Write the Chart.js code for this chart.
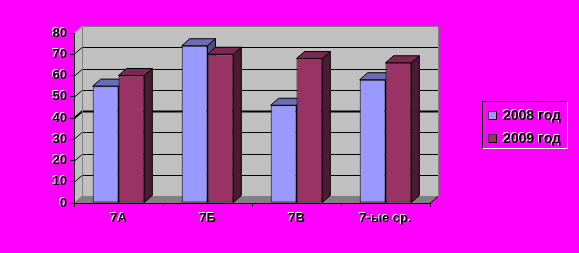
<!DOCTYPE html>
<html><head><meta charset="utf-8">
<script src="https://cdn.jsdelivr.net/npm/chart.js@4/dist/chart.umd.min.js"></script>
<style>
html,body{margin:0;padding:0;background:#FF00FF;}
#wrap{position:relative;width:579px;height:253px;background:#FF00FF;}
#legend{position:absolute;left:482px;top:101px;width:86px;height:48px;border:1px solid #000;border-right-color:#fff;border-bottom-color:#fff;box-sizing:border-box;font:bold 14px "Liberation Sans",Arial,sans-serif;color:#000;}
.li{position:absolute;left:5px;height:16px;line-height:16px;white-space:nowrap;text-shadow:-1px -1px 0 #fff;}
.sw{display:inline-block;width:9px;height:9px;border:1px solid #000;border-top-color:#444;border-left-color:#444;box-sizing:border-box;margin-right:6px;vertical-align:0px;}
</style></head>
<body><div id="wrap"><canvas id="c" width="579" height="253"></canvas><div id="legend"></div></div>
<script>
const categories = ["7А", "7Б", "7В", "7-ые ср."];
const series2008 = [55, 74, 46, 58];
const series2009 = [60, 70, 68, 66];
const seriesNames = ["2008 год", "2009 год"];
const yTicks = [0, 10, 20, 30, 40, 50, 60, 70, 80];

const DX = 8, DY = -7;
const colors = [
  {front:"#9999FF", top:"#6B6BB8", side:"#4D4D80"},
  {front:"#993366", top:"#7A2952", side:"#4D1A33"}
];

const threeD = {
  id: "threeD",
  beforeDraw(chart) {
    const ctx = chart.ctx, a = chart.chartArea, y = chart.scales.y;
    const L = a.left, R = a.right, T = a.top, B = a.bottom;
    ctx.save();
    ctx.fillStyle = "#C0C0C0";
    ctx.beginPath();
    ctx.moveTo(L, T); ctx.lineTo(L + DX, T + DY); ctx.lineTo(L + DX, B + DY); ctx.lineTo(L, B); ctx.closePath();
    ctx.fill();
    ctx.fillRect(L + DX, T + DY, R - L, B - T);
    ctx.fillStyle = "#808080";
    ctx.beginPath();
    ctx.moveTo(L, B); ctx.lineTo(L + DX, B + DY); ctx.lineTo(R + DX, B + DY); ctx.lineTo(R, B); ctx.closePath();
    ctx.fill();
    ctx.strokeStyle = "#000";
    yTicks.forEach(v => {
      if (v === 0 || v === 80) return;
      const py = Math.round(y.getPixelForValue(v)) + 0.5;
      ctx.lineWidth = v === 40 ? 2 : 1;
      ctx.beginPath();
      ctx.moveTo(L, py); ctx.lineTo(L + DX, py + DY); ctx.lineTo(R + DX, py + DY);
      ctx.stroke();
    });
    ctx.lineWidth = 1;
    ctx.strokeStyle = "#808080";
    ctx.beginPath();
    ctx.moveTo(L + 0.5, T + 0.5); ctx.lineTo(L + DX + 0.5, T + DY + 0.5); ctx.lineTo(R + DX + 0.5, T + DY + 0.5);
    ctx.lineTo(R + DX + 0.5, B + DY + 0.5);
    ctx.moveTo(L + DX + 0.5, T + DY + 0.5); ctx.lineTo(L + DX + 0.5, B + DY);
    ctx.stroke();
    ctx.strokeStyle = "#000";
    ctx.beginPath();
    ctx.moveTo(R, B + 0.5); ctx.lineTo(R + DX, B + DY + 0.5);
    ctx.stroke();
    ctx.restore();
  },
  beforeDatasetsDraw(chart) {
    const ctx = chart.ctx;
    ctx.save();
    ctx.strokeStyle = "#000";
    ctx.lineWidth = 1;
    const n = chart.data.labels.length;
    for (let i = 0; i < n; i++) {
      chart.data.datasets.forEach((ds, di) => {
        const el = chart.getDatasetMeta(di).data[i];
        const x0 = el.x - el.width / 2, x1 = el.x + el.width / 2, t = el.y, b = el.base;
        const c = colors[di];
        ctx.fillStyle = c.side;
        ctx.beginPath();
        ctx.moveTo(x1, t); ctx.lineTo(x1 + DX, t + DY); ctx.lineTo(x1 + DX, b + DY); ctx.lineTo(x1, b); ctx.closePath();
        ctx.fill(); ctx.stroke();
        ctx.fillStyle = c.top;
        ctx.beginPath();
        ctx.moveTo(x0, t); ctx.lineTo(x0 + DX, t + DY); ctx.lineTo(x1 + DX, t + DY); ctx.lineTo(x1, t); ctx.closePath();
        ctx.fill(); ctx.stroke();
      });
    }
    ctx.restore();
  },
  afterDatasetsDraw(chart) {
    const ctx = chart.ctx;
    ctx.shadowColor = "#FFFFFF";
    ctx.shadowOffsetX = -1;
    ctx.shadowOffsetY = -1;
    ctx.shadowBlur = 0;
  },
  afterDraw(chart) {
    const ctx = chart.ctx;
    ctx.shadowColor = "rgba(0,0,0,0)";
    ctx.shadowOffsetX = 0;
    ctx.shadowOffsetY = 0;
  }
};

const font = {family: "'Liberation Sans', Arial, sans-serif", size: 13, weight: "bold"};

new Chart(document.getElementById("c"), {
  type: "bar",
  data: {
    labels: categories,
    datasets: [
      {label: seriesNames[0], data: series2008, backgroundColor: colors[0].front, borderColor: "#000", borderWidth: 1, borderSkipped: false},
      {label: seriesNames[1], data: series2009, backgroundColor: colors[1].front, borderColor: "#000", borderWidth: 1, borderSkipped: false}
    ]
  },
  options: {
    responsive: false,
    animation: false,
    devicePixelRatio: 1,
    layout: {padding: {top: 33, right: 149, left: 0, bottom: 0}},
    datasets: {bar: {categoryPercentage: 0.58, barPercentage: 1}},
    plugins: {legend: {display: false}, tooltip: {enabled: false}},
    scales: {
      x: {
        offset: true,
        grid: {display: true, drawOnChartArea: false, drawTicks: true, tickLength: 4, color: "#000", offset: true, z: -1},
        border: {display: true, color: "#000", width: 1},
        ticks: {color: "#000", font: font, padding: 4, maxRotation: 0, autoSkip: false, z: 1},
        afterFit(s) { s.height = 50; }
      },
      y: {
        min: 0, max: 80,
        afterBuildTicks(s) { s.ticks = yTicks.map(v => ({value: v})); },
        grid: {display: true, drawOnChartArea: false, drawTicks: true, tickLength: 4, color: "#000", z: -1},
        border: {display: true, color: "#000", width: 1},
        ticks: {color: "#000", font: font, padding: 3, z: 1},
        afterFit(s) { s.width = 74; }
      }
    }
  },
  plugins: [threeD]
});

const lg = document.getElementById("legend");
seriesNames.forEach((name, i) => {
  const d = document.createElement("div");
  d.className = "li";
  d.style.top = (i === 0 ? 5 : 28) + "px";
  const sw = document.createElement("span");
  sw.className = "sw";
  sw.style.background = colors[i].front;
  d.appendChild(sw);
  d.appendChild(document.createTextNode(name));
  lg.appendChild(d);
});
</script>
</body></html>
